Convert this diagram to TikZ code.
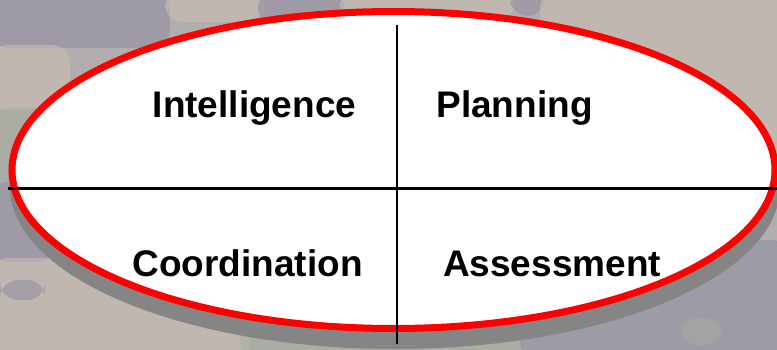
\documentclass[tikz,border=0pt]{standalone}
\usepackage{fontspec}
\setmainfont{Liberation Sans}
\usetikzlibrary{shapes.geometric}

\definecolor{camoGrey}{HTML}{B2ADAF}
\definecolor{camoPurple}{HTML}{8F8DA0}
\definecolor{camoBeige}{HTML}{CCC1B2}
\definecolor{camoGreen}{HTML}{A7AD9E}
\definecolor{discShadow}{HTML}{858585}

\begin{document}
\begin{tikzpicture}[x=1pt,y=-1pt,
  every node/.append style={font=\fontsize{37}{40}\selectfont\bfseries, text=black},
  patch/.style={rounded corners=18pt, opacity=.55},
  disc/.style={ellipse, draw=red, line width=7pt, fill=white, inner sep=0pt,
    minimum width=763pt, minimum height=317pt},
  divider/.style={draw=black, line width=2.8pt},
  label/.style={anchor=base, inner sep=0pt}]
\useasboundingbox (0,0) rectangle (777,350);
% blurred background
\fill[camoGrey] (0,0) rectangle (777,350);
\fill[camoPurple,patch] (-10,-10) rectangle (170,48);
\fill[camoBeige,patch] (165,-10) rectangle (265,22);
\fill[camoPurple,patch] (258,-10) rectangle (345,26);
\fill[camoBeige,patch] (340,-10) rectangle (515,20);
\fill[camoPurple,patch] (510,-10) rectangle (545,16);
\fill[camoBeige,patch] (540,-10) rectangle (790,190);
\fill[camoBeige,patch] (-10,45) rectangle (70,110);
\fill[camoGreen,patch] (-10,108) rectangle (60,185);
\fill[camoPurple,patch] (-10,182) rectangle (55,262);
\fill[camoBeige,patch] (-10,258) rectangle (250,360);
\fill[camoPurple,patch] (0,280) rectangle (45,300);
\fill[camoGreen,patch] (240,300) rectangle (525,360);
\fill[camoPurple,patch] (520,240) rectangle (790,360);
\fill[camoGreen,patch] (680,318) rectangle (722,345);
% disc with shadow
\fill[discShadow] (395,187) ellipse [x radius=385, y radius=162];
\node[disc] (disc) at (393.5,170) {};
\coordinate (top) at (397,25);
\coordinate (bottom) at (397,344);
\coordinate (left) at (8,188.5);
\coordinate (right) at (777,188.5);
\draw[divider] (top) -- (bottom);
\draw[divider] (left) -- (right);
% quadrant labels
\node[label] (intel) at (254.5,118) {Intelligence};
\node[label] (plan) at (514.5,118) {Planning};
\node[label] (coord) at (247.5,276) {Coordination};
\node[label] (assess) at (552,276) {Assessment};
\end{tikzpicture}
\end{document}
